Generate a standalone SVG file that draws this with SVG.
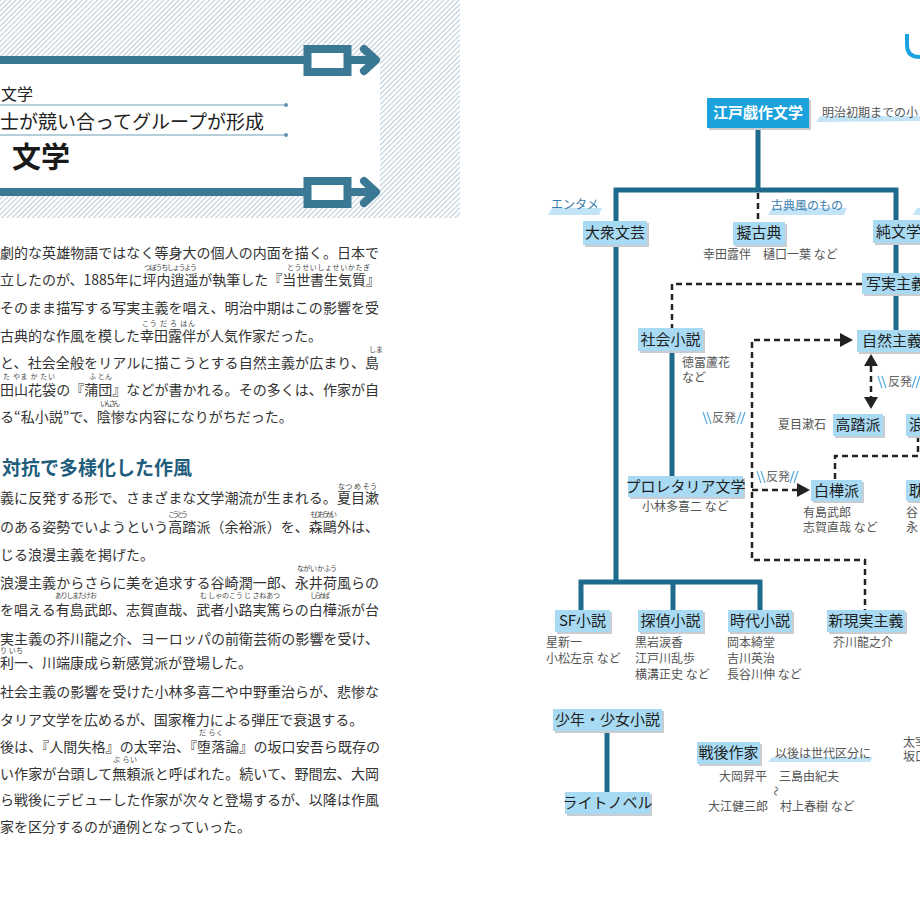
<svg xmlns="http://www.w3.org/2000/svg" width="920" height="920" viewBox="0 0 920 920">
<defs>
<pattern id="hatch" width="3.6" height="3.6" patternUnits="userSpaceOnUse" patternTransform="rotate(45)">
<rect width="3.6" height="3.6" fill="#ffffff"/>
<line x1="0.6" y1="0" x2="0.6" y2="3.6" stroke="#bccbd6" stroke-width="1.1"/>
</pattern>
<style>
text{font-family:"Noto Sans CJK JP","Noto Sans",sans-serif}
.body{font-size:14px;fill:#333}
.ruby{font-size:7px;fill:#444}
.bar{stroke:#3b7893;stroke-width:8;fill:none}
.barbox{stroke:#3b7893;stroke-width:8;fill:#fff}
.dotline{stroke:#6a9fb7;stroke-width:1}
.nb{fill:#a8daf3}
.sh{fill:#c9cdd1}
.nt{font-size:15px;fill:#1e1e1e;text-anchor:middle}
.ntl{font-size:15px;fill:#1e1e1e}
.sub{font-size:12px;fill:#555}
.lab{font-size:12px;fill:#3c7eab}
.lab2{font-size:12px;fill:#555}
.sw{fill:#c2e4f6}
.thick{stroke:#1d6a8c;stroke-width:5;fill:none;stroke-linejoin:miter;stroke-linecap:butt}
.dash{stroke:#222;stroke-width:2.5;fill:none;stroke-dasharray:6 4}
.ah{fill:#222}
.sl{stroke:#5aaedf;stroke-width:1.2}
.hf{font-size:12px;fill:#666}
</style>
</defs>

<!-- left page header -->
<rect x="0" y="0" width="460" height="218" fill="url(#hatch)"/>
<rect x="0" y="60" width="380" height="130" fill="#ffffff"/>
<line class="bar" x1="0" y1="60" x2="306" y2="60"/>
<rect class="barbox" x="307.5" y="49" width="40" height="23"/>
<line class="bar" x1="351" y1="60" x2="374" y2="60"/>
<polyline class="bar" points="364,49 376,60 364,71" stroke-linecap="round" stroke-linejoin="round"/>
<line class="bar" x1="0" y1="192" x2="306" y2="192"/>
<rect class="barbox" x="307.5" y="181" width="40" height="23"/>
<line class="bar" x1="351" y1="192" x2="374" y2="192"/>
<polyline class="bar" points="364,181 376,192 364,203" stroke-linecap="round" stroke-linejoin="round"/>
<text x="1" y="100" style="font-size:16px;fill:#222">文学</text>
<line class="dotline" x1="0" y1="105" x2="286" y2="105"/>
<circle cx="286" cy="105" r="2" fill="#5b93ad"/>
<text x="0" y="129" style="font-size:19px;fill:#222">士が競い合ってグループが形成</text>
<line class="dotline" x1="0" y1="135" x2="286" y2="135"/>
<circle cx="286" cy="135" r="2" fill="#5b93ad"/>
<text x="12" y="168" style="font-size:29px;font-weight:bold;fill:#1a1a1a">文学</text>

<!-- left page body -->
<g id="body-text">
<text class="body" x="0" y="258" textLength="379" lengthAdjust="spacing">劇的な英雄物語ではなく等身大の個人の内面を描く。日本で</text>
<text class="body" x="0" y="285" textLength="380" lengthAdjust="spacing">立したのが、1885年に坪内逍遥が執筆した『当世書生気質』</text>
<text class="body" x="0" y="313" textLength="379" lengthAdjust="spacing">そのまま描写する写実主義を唱え、明治中期はこの影響を受</text>
<text class="body" x="0" y="341">古典的な作風を模した幸田露伴が人気作家だった。</text>
<text class="body" x="0" y="368" textLength="379" lengthAdjust="spacing">と、社会全般をリアルに描こうとする自然主義が広まり、島</text>
<text class="body" x="0" y="395" textLength="379" lengthAdjust="spacing">田山花袋の『蒲団』などが書かれる。その多くは、作家が自</text>
<text class="body" x="0" y="422">る“私小説”で、陰惨な内容になりがちだった。</text>

<text x="2" y="475" style="font-size:19px;font-weight:bold;fill:#1e5d7b">対抗で多様化した作風</text>
<text class="body" x="0" y="503" textLength="379" lengthAdjust="spacing">義に反発する形で、さまざまな文学潮流が生まれる。夏目漱</text>
<text class="body" x="0" y="532" textLength="379" lengthAdjust="spacing">のある姿勢でいようという高踏派（余裕派）を、森鷗外は、</text>
<text class="body" x="0" y="560">じる浪漫主義を掲げた。</text>
<text class="body" x="0" y="588" textLength="379" lengthAdjust="spacing">浪漫主義からさらに美を追求する谷崎潤一郎、永井荷風らの</text>
<text class="body" x="0" y="615" textLength="379" lengthAdjust="spacing">を唱える有島武郎、志賀直哉、武者小路実篤らの白樺派が台</text>
<text class="body" x="0" y="644" textLength="379" lengthAdjust="spacing">実主義の芥川龍之介、ヨーロッパの前衛芸術の影響を受け、</text>
<text class="body" x="0" y="668">利一、川端康成ら新感覚派が登場した。</text>
<text class="body" x="0" y="697" textLength="379" lengthAdjust="spacing">社会主義の影響を受けた小林多喜二や中野重治らが、悲惨な</text>
<text class="body" x="0" y="725">タリア文学を広めるが、国家権力による弾圧で衰退する。</text>
<text class="body" x="0" y="752" textLength="380" lengthAdjust="spacing">後は、『人間失格』の太宰治、『堕落論』の坂口安吾ら既存の</text>
<text class="body" x="0" y="779" textLength="379" lengthAdjust="spacing">い作家が台頭して無頼派と呼ばれた。続いて、野間宏、大岡</text>
<text class="body" x="0" y="805" textLength="379" lengthAdjust="spacing">ら戦後にデビューした作家が次々と登場するが、以降は作風</text>
<text class="body" x="0" y="832">家を区分するのが通例となっていった。</text>
</g>

<g id="ruby">
<text class="ruby" x="144" y="270" textLength="53" lengthAdjust="spacing">つぼうちしょうよう</text>
<text class="ruby" x="287" y="270" textLength="83" lengthAdjust="spacing">とうせいしょせいかたぎ</text>
<text class="ruby" x="142" y="326" textLength="53" lengthAdjust="spacing">こう だ ろ はん</text>
<text class="ruby" x="369" y="352">しま</text>
<text class="ruby" x="3" y="379" textLength="52" lengthAdjust="spacing">た やま か たい</text>
<text class="ruby" x="89" y="379" textLength="23" lengthAdjust="spacing">ふ とん</text>
<text class="ruby" x="100" y="406" textLength="20" lengthAdjust="spacing">いんさん</text>
<text class="ruby" x="338" y="489" textLength="39" lengthAdjust="spacing">なつ め そう</text>
<text class="ruby" x="168" y="517" textLength="20" lengthAdjust="spacing">こうとう</text>
<text class="ruby" x="310" y="517" textLength="27" lengthAdjust="spacing">もりおうがい</text>
<text class="ruby" x="297" y="571" textLength="40" lengthAdjust="spacing">なが い か ふう</text>
<text class="ruby" x="55" y="598" textLength="42" lengthAdjust="spacing">ありしまたけ お</text>
<text class="ruby" x="200" y="598" textLength="80" lengthAdjust="spacing">む しゃのこう じ さねあつ</text>
<text class="ruby" x="310" y="598" textLength="20" lengthAdjust="spacing">しらかば</text>
<text class="ruby" x="0" y="653" textLength="23" lengthAdjust="spacing">り いち</text>
<text class="ruby" x="199" y="735" textLength="24" lengthAdjust="spacing">だ らく</text>
<text class="ruby" x="113" y="762" textLength="24" lengthAdjust="spacing">ぶ らい</text>
</g>

<!-- right page top-right mark -->
<path d="M907,34 V45 Q907,57 920,57" stroke="#1aa3e0" stroke-width="4" fill="none"/>

<!-- label swooshes and labels -->
<g id="labels">
<path class="sw" d="M816,122 L820,116 H920 V121 Z"/>
<text class="lab2" x="822" y="117">明治初期までの小</text>
<path class="sw" d="M548,215 L552,208 H602 L599,215 Z"/>
<text class="lab" x="551" y="209">エンタメ</text>
<path class="sw" d="M768,215 L772,208 H847 L844,215 Z"/>
<text class="lab" x="771" y="210">古典風のもの</text>
<path class="sw" d="M913,215 L917,208 H920 V215 Z"/>
<path class="sw" d="M768,762 L772,757 H873 L870,762 Z"/>
<text class="lab2" x="775" y="758">以後は世代区分に</text>
</g>

<g id="connectors">
<path class="thick" d="M758,128 V190"/>
<path class="thick" d="M616,582 V190 H896 V330"/>
<path class="thick" d="M581,610 V582 H760 V610"/>
<path class="thick" d="M673,582 V610"/>
<path class="thick" d="M672,351 V476"/>
<path class="thick" d="M607,731 V792"/>
<path class="dash" d="M758,193 V222"/>
<path class="dash" d="M862,284 H672 V328"/>
<path class="dash" d="M840,340 H752 V560 H865 V610"/>
<path class="dash" d="M752,490 H797"/>
<path class="dash" d="M871,366 V397"/>
<path class="dash" d="M918,436 V456 H835 V480"/>
<polygon class="ah" points="840,333 853,340 840,347"/>
<polygon class="ah" points="797,483 810,490 797,497"/>
<polygon class="ah" points="864,366 871,354 878,366"/>
<polygon class="ah" points="864,397 871,409 878,397"/>
<!-- 反発 labels -->
<line class="sl" x1="703" y1="412" x2="707" y2="424"/><line class="sl" x1="707" y1="412" x2="711" y2="424"/>
<text class="hf" x="712" y="422">反発</text>
<line class="sl" x1="741" y1="412" x2="737" y2="424"/><line class="sl" x1="745" y1="412" x2="741" y2="424"/>
<line class="sl" x1="757" y1="471" x2="761" y2="483"/><line class="sl" x1="761" y1="471" x2="765" y2="483"/>
<text class="hf" x="766" y="481">反発</text>
<line class="sl" x1="794" y1="471" x2="790" y2="483"/><line class="sl" x1="798" y1="471" x2="794" y2="483"/>
<line class="sl" x1="878" y1="376" x2="882" y2="388"/><line class="sl" x1="882" y1="376" x2="886" y2="388"/>
<text class="hf" x="888" y="386">反発</text>
<line class="sl" x1="916" y1="376" x2="912" y2="388"/><line class="sl" x1="920" y1="376" x2="916" y2="388"/>
</g>

<g id="node-edo">
<rect class="sh" x="709" y="100" width="102" height="30"/>
<rect x="707" y="98" width="102" height="30" fill="#1ba1dc"/>
<text x="758" y="118" style="font-size:15px;font-weight:bold;fill:#fff;text-anchor:middle">江戸戯作文学</text>
</g>
<g id="node-taishu">
<rect class="sh" x="585" y="223" width="64" height="24"/>
<rect class="nb" x="583" y="221" width="64" height="24"/>
<text class="nt" x="615" y="238">大衆文芸</text>
</g>
<g id="node-giko">
<rect class="sh" x="735" y="224" width="52" height="23"/>
<rect class="nb" x="733" y="222" width="52" height="23"/>
<text class="nt" x="759" y="238">擬古典</text>
<text class="sub" x="703" y="259">幸田露伴　樋口一葉 など</text>
</g>
<g id="node-jun">
<rect class="sh" x="875" y="222" width="60" height="23"/>
<rect class="nb" x="873" y="220" width="60" height="23"/>
<text class="ntl" x="876" y="237">純文学</text>
</g>
<g id="node-shajitsu">
<rect class="sh" x="864" y="275" width="60" height="21"/>
<rect class="nb" x="862" y="273" width="60" height="21"/>
<text class="ntl" x="866" y="289">写実主義</text>
</g>
<g id="node-shakai">
<rect class="sh" x="640" y="330" width="65" height="23"/>
<rect class="nb" x="638" y="328" width="65" height="23"/>
<text class="nt" x="670.5" y="345">社会小説</text>
<text class="sub" x="682" y="367">徳冨蘆花</text>
<text class="sub" x="682" y="382">など</text>
</g>
<g id="node-shizen">
<rect class="sh" x="859" y="332" width="70" height="22"/>
<rect class="nb" x="857" y="330" width="70" height="22"/>
<text class="ntl" x="862" y="346">自然主義</text>
</g>
<g id="node-kouto">
<rect class="sh" x="835" y="416" width="50" height="22"/>
<rect class="nb" x="833" y="414" width="50" height="22"/>
<text class="nt" x="858" y="430">高踏派</text>
<text class="sub" x="778" y="429">夏目漱石</text>
</g>
<g id="node-roman">
<rect class="sh" x="908" y="416" width="20" height="22"/>
<rect class="nb" x="906" y="414" width="20" height="22"/>
<text class="ntl" x="909" y="430">浪</text>
</g>
<g id="node-prole">
<rect class="sh" x="630" y="478" width="115" height="21"/>
<rect class="nb" x="628" y="476" width="115" height="21"/>
<text class="nt" x="685.5" y="492">プロレタリア文学</text>
<text class="sub" x="642" y="511">小林多喜二 など</text>
</g>
<g id="node-shirakaba">
<rect class="sh" x="813" y="482" width="51" height="21"/>
<rect class="nb" x="811" y="480" width="51" height="21"/>
<text class="nt" x="836.5" y="496">白樺派</text>
<text class="sub" x="803" y="517">有島武郎</text>
<text class="sub" x="803" y="532">志賀直哉 など</text>
</g>
<g id="node-tanbi">
<rect class="sh" x="908" y="482" width="20" height="21"/>
<rect class="nb" x="906" y="480" width="20" height="21"/>
<text class="ntl" x="909" y="496">耽</text>
<text class="sub" x="906" y="517">谷</text>
<text class="sub" x="906" y="532">永</text>
</g>
<g id="node-sf">
<rect class="sh" x="557" y="612" width="55" height="22"/>
<rect class="nb" x="555" y="610" width="55" height="22"/>
<text class="nt" x="582.5" y="626">SF小説</text>
<text class="sub" x="546" y="647">星新一</text>
<text class="sub" x="546" y="663">小松左京 など</text>
</g>
<g id="node-tantei">
<rect class="sh" x="640" y="612" width="65" height="22"/>
<rect class="nb" x="638" y="610" width="65" height="22"/>
<text class="nt" x="670.5" y="626">探偵小説</text>
<text class="sub" x="635" y="647">黒岩涙香</text>
<text class="sub" x="635" y="663">江戸川乱歩</text>
<text class="sub" x="635" y="679">横溝正史 など</text>
</g>
<g id="node-jidai">
<rect class="sh" x="730" y="612" width="64" height="22"/>
<rect class="nb" x="728" y="610" width="64" height="22"/>
<text class="nt" x="760" y="626">時代小説</text>
<text class="sub" x="727" y="647">岡本綺堂</text>
<text class="sub" x="727" y="663">吉川英治</text>
<text class="sub" x="727" y="679">長谷川伸 など</text>
</g>
<g id="node-shingenjitsu">
<rect class="sh" x="829" y="612" width="78" height="22"/>
<rect class="nb" x="827" y="610" width="78" height="22"/>
<text class="nt" x="866" y="626">新現実主義</text>
<text class="sub" x="833" y="647">芥川龍之介</text>
</g>
<g id="node-shonen">
<rect class="sh" x="555" y="711" width="109" height="22"/>
<rect class="nb" x="553" y="709" width="109" height="22"/>
<text class="nt" x="607.5" y="725">少年・少女小説</text>
</g>
<g id="node-light">
<rect class="sh" x="567" y="794" width="85" height="22"/>
<rect class="nb" x="565" y="792" width="85" height="22"/>
<text class="nt" x="607.5" y="808">ライトノベル</text>
</g>
<g id="node-sengo">
<rect class="sh" x="699" y="744" width="63" height="22"/>
<rect class="nb" x="697" y="742" width="63" height="22"/>
<text class="nt" x="728.5" y="758">戦後作家</text>
<text class="sub" x="719" y="781">大岡昇平　三島由紀夫</text>
<text class="sub" transform="rotate(90 776 791)" x="776" y="795" style="font-size:10px;text-anchor:middle">〜</text>
<text class="sub" x="708" y="811">大江健三郎　村上春樹 など</text>
</g>
<g id="node-buraiha">
<text class="sub" x="903" y="747">太宰</text>
<text class="sub" x="903" y="761">坂口</text>
</g>
</svg>
